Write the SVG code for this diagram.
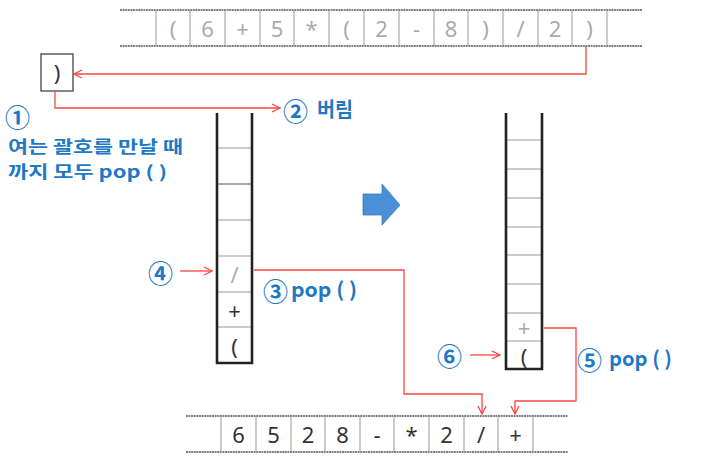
<svg xmlns="http://www.w3.org/2000/svg" width="705" height="463" viewBox="0 0 705 463">
<style>
.rowline{stroke:#555;stroke-width:1.6;stroke-dasharray:2 0.6}
.div{stroke:#999;stroke-width:1}
.gt{font-family:"Noto Sans","DejaVu Sans",sans-serif;font-size:22px;fill:#aaa;text-anchor:middle;dominant-baseline:central}
.dt{font-family:"Noto Sans","DejaVu Sans",sans-serif;font-size:22px;fill:#333;text-anchor:middle;dominant-baseline:central}
.wall{stroke:#222;stroke-width:2.6;fill:none}
.cell{stroke:#999;stroke-width:1}
.red{stroke:#F44;stroke-width:1.3;fill:none}
.lbl{font-family:"Noto Sans CJK KR","Noto Sans",sans-serif;font-weight:bold;fill:#1E78C4}
.num{font-family:"Noto Sans CJK KR","Noto Sans",sans-serif;font-weight:bold;fill:#1E78C4;font-size:25px;dominant-baseline:central}
</style>
<defs>
<marker id="ah" markerWidth="10" markerHeight="10" refX="9" refY="5" orient="auto" markerUnits="userSpaceOnUse">
<path d="M1,1 L9,5 L1,9" fill="none" stroke="#F44" stroke-width="1.3"/>
</marker>
</defs>

<g id="infix-row">
<line class="rowline" x1="120" y1="10" x2="642" y2="10"/>
<line class="rowline" x1="120" y1="46" x2="642" y2="46"/>
<g class="div">
<line x1="156" y1="10" x2="156" y2="46"/><line x1="190" y1="10" x2="190" y2="46"/><line x1="225" y1="10" x2="225" y2="46"/><line x1="260" y1="10" x2="260" y2="46"/><line x1="294" y1="10" x2="294" y2="46"/><line x1="329" y1="10" x2="329" y2="46"/><line x1="364" y1="10" x2="364" y2="46"/><line x1="399" y1="10" x2="399" y2="46"/><line x1="434" y1="10" x2="434" y2="46"/><line x1="468" y1="10" x2="468" y2="46"/><line x1="503" y1="10" x2="503" y2="46"/><line x1="538" y1="10" x2="538" y2="46"/><line x1="572" y1="10" x2="572" y2="46"/><line x1="607" y1="10" x2="607" y2="46"/>
</g>
<text class="gt" x="173" y="28">(</text>
<text class="gt" x="207.5" y="28">6</text>
<text class="gt" x="242.5" y="28">+</text>
<text class="gt" x="277" y="28">5</text>
<text class="gt" x="311.5" y="28">*</text>
<text class="gt" x="346.5" y="28">(</text>
<text class="gt" x="381.5" y="28">2</text>
<text class="gt" x="416.5" y="28">-</text>
<text class="gt" x="451" y="28">8</text>
<text class="gt" x="485.5" y="28">)</text>
<text class="gt" x="520.5" y="28">/</text>
<text class="gt" x="555" y="28">2</text>
<text class="gt" x="589.5" y="28">)</text>
</g>

<g id="paren-box">
<rect x="41" y="54" width="32" height="37" fill="none" stroke="#444" stroke-width="1.3"/>
<text class="dt" x="57" y="72">)</text>
</g>

<g id="label-1">
<text class="num" x="5" y="116">①</text>
<text class="lbl" x="8" y="153" font-size="17" textLength="175" lengthAdjust="spacingAndGlyphs">여는 괄호를 만날 때</text>
<text class="lbl" x="8" y="178" font-size="17" textLength="159" lengthAdjust="spacingAndGlyphs">까지 모두 pop ( )</text>
</g>
<g id="label-2">
<text class="num" x="283" y="110">②</text>
<text class="lbl" x="317" y="117" font-size="20" textLength="36" lengthAdjust="spacingAndGlyphs">버림</text>
</g>
<g id="label-3">
<text class="num" x="263" y="290">③</text>
<text class="lbl" x="291" y="297" font-size="20" textLength="66" lengthAdjust="spacingAndGlyphs">pop ( )</text>
</g>
<g id="label-4"><text class="num" x="148" y="272">④</text></g>
<g id="label-5">
<text class="num" x="577" y="359">⑤</text>
<text class="lbl" x="609" y="366" font-size="20" textLength="63" lengthAdjust="spacingAndGlyphs">pop ( )</text>
</g>
<g id="label-6"><text class="num" x="437" y="355">⑥</text></g>

<g id="stack-left">
<g class="cell">
<line x1="217" y1="148" x2="252" y2="148"/>
<line x1="217" y1="184" x2="252" y2="184" stroke="#555"/>
<line x1="217" y1="220" x2="252" y2="220"/>
<line x1="217" y1="256" x2="252" y2="256"/>
<line x1="217" y1="292" x2="252" y2="292"/>
<line x1="217" y1="327" x2="252" y2="327"/>
</g>
<path class="wall" d="M217,113 V363 H252 V113"/>
<text class="gt" x="234.5" y="274" font-size="20">/</text>
<text class="dt" x="234.5" y="310" font-size="20">+</text>
<text class="dt" x="234.5" y="346" font-size="20">(</text>
</g>

<g id="transition-arrow">
<path d="M363,194 H382 V184 L400,205 L382,225 V215 H363 Z" fill="#4A8FD8" stroke="#3A78BC" stroke-width="0.8"/>
</g>

<g id="stack-right">
<g class="cell">
<line x1="506" y1="140" x2="542" y2="140"/>
<line x1="506" y1="169" x2="542" y2="169"/>
<line x1="506" y1="198" x2="542" y2="198"/>
<line x1="506" y1="227" x2="542" y2="227"/>
<line x1="506" y1="255" x2="542" y2="255"/>
<line x1="506" y1="284" x2="542" y2="284"/>
<line x1="506" y1="313" x2="542" y2="313"/>
<line x1="506" y1="341" x2="542" y2="341"/>
</g>
<path class="wall" d="M506,113 V369 H542 V113"/>
<text class="gt" x="524" y="327" font-size="16">+</text>
<text class="dt" x="524" y="356" font-size="18" fill="#555">(</text>
</g>

<g id="postfix-row">
<line class="rowline" x1="186" y1="416" x2="568" y2="416"/>
<line class="rowline" x1="186" y1="452" x2="568" y2="452"/>
<g class="div">
<line x1="221" y1="416" x2="221" y2="452"/><line x1="256" y1="416" x2="256" y2="452"/><line x1="291" y1="416" x2="291" y2="452"/><line x1="325" y1="416" x2="325" y2="452"/><line x1="360" y1="416" x2="360" y2="452"/><line x1="394" y1="416" x2="394" y2="452"/><line x1="429" y1="416" x2="429" y2="452"/><line x1="464" y1="416" x2="464" y2="452"/><line x1="498" y1="416" x2="498" y2="452"/><line x1="533" y1="416" x2="533" y2="452"/>
</g>
<text class="dt" x="238.5" y="434">6</text>
<text class="dt" x="273.5" y="434">5</text>
<text class="dt" x="308" y="434">2</text>
<text class="dt" x="342.5" y="434">8</text>
<text class="dt" x="377" y="434">-</text>
<text class="dt" x="411.5" y="434">*</text>
<text class="dt" x="446.5" y="434">2</text>
<text class="dt" x="481" y="434">/</text>
<text class="dt" x="515.5" y="434">+</text>
</g>

<g id="connectors">
<path class="red" d="M586,46 V74 H74" marker-end="url(#ah)"/>
<path class="red" d="M55,91 V108 H280" marker-end="url(#ah)"/>
<path class="red" d="M180,271 H212" marker-end="url(#ah)"/>
<path class="red" d="M254,270 H404 V394 H482 V414" marker-end="url(#ah)"/>
<path class="red" d="M470,355 H500" marker-end="url(#ah)"/>
<path class="red" d="M544,328 H576 V401 H515 V414" marker-end="url(#ah)"/>
</g>
</svg>
